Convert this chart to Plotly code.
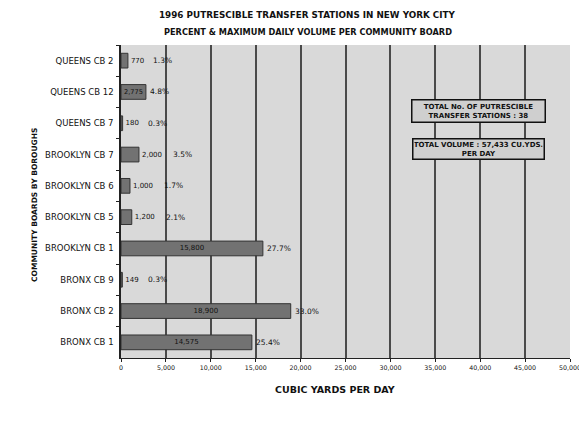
import plotly.graph_objects as go

boards = ["QUEENS CB 2", "QUEENS CB 12", "QUEENS CB 7", "BROOKLYN CB 7", "BROOKLYN CB 6",
          "BROOKLYN CB 5", "BROOKLYN CB 1", "BRONX CB 9", "BRONX CB 2", "BRONX CB 1"]
volumes = [770, 2775, 180, 2000, 1000, 1200, 15800, 149, 18900, 14575]
percents = ["1.3%", "4.8%", "0.3%", "3.5%", "1.7%", "2.1%", "27.7%", "0.3%", "33.0%", "25.4%"]
x_ticks = [0, 5000, 10000, 15000, 20000, 25000, 30000, 35000, 40000, 45000, 50000]
x_tick_labels = ["0", "5,000", "10,000", "15,000", "20,000", "25,000", "30,000",
                 "35,000", "40,000", "45,000", "50,000"]

FONT = "DejaVu Sans"
INK = "#111"

value_text = [f"{v:,}" for v in volumes]
inside = [v > 2500 for v in volumes]

fig = go.Figure()
fig.add_trace(go.Bar(
    y=boards, x=volumes, orientation="h",
    marker=dict(color="#727272", line=dict(color="#333", width=1)),
    text=value_text,
    textposition=["inside" if i else "outside" for i in inside],
    insidetextanchor="middle",
    textfont=dict(size=7, color=INK, family=FONT),
    cliponaxis=False,
    width=0.47,
    hoverinfo="skip",
))

for b, v, t, p, i in zip(boards, volumes, value_text, percents, inside):
    fig.add_annotation(x=v, y=b, xref="x", yref="y", text=p, showarrow=False,
                       xanchor="left", xshift=2 if i else len(t) * 4.5 + 10,
                       font=dict(size=7.5, color=INK, family=FONT))

# title lines
fig.add_annotation(x=0.416, y=1.096, xref="paper", yref="paper", xanchor="center", yanchor="middle",
                   text="<b>1996 PUTRESCIBLE TRANSFER STATIONS IN NEW YORK CITY</b>",
                   showarrow=False, font=dict(size=8.8, color=INK, family=FONT))
fig.add_annotation(x=0.416, y=1.042, xref="paper", yref="paper", xanchor="center", yanchor="middle",
                   text="<b>PERCENT & MAXIMUM DAILY VOLUME PER COMMUNITY BOARD</b>",
                   showarrow=False, font=dict(size=8.2, color=INK, family=FONT))
# axis titles
fig.add_annotation(x=0.477, y=-0.102, xref="paper", yref="paper", xanchor="center", yanchor="middle",
                   text="<b>CUBIC YARDS PER DAY</b>",
                   showarrow=False, font=dict(size=9.5, color=INK, family=FONT))
fig.add_annotation(x=-0.1915, y=0.489, xref="paper", yref="paper", xanchor="center", yanchor="middle",
                   text="<b>COMMUNITY BOARDS BY BOROUGHS</b>", textangle=-90,
                   showarrow=False, font=dict(size=7.5, color=INK, family=FONT))

# info boxes
fig.add_annotation(x=0.797, y=0.789, xref="paper", yref="paper", xanchor="center", yanchor="middle",
                   text="<b>TOTAL No. OF PUTRESCIBLE<br>TRANSFER STATIONS : 38</b>",
                   showarrow=False, font=dict(size=7, color=INK, family=FONT),
                   bgcolor="#cfcfcf", bordercolor=INK, borderwidth=1.5, borderpad=2, width=128)
fig.add_annotation(x=0.797, y=0.669, xref="paper", yref="paper", xanchor="center", yanchor="middle",
                   text="<b>TOTAL VOLUME : 57,433 CU.YDS.<br>PER DAY</b>",
                   showarrow=False, font=dict(size=7, color=INK, family=FONT),
                   bgcolor="#cfcfcf", bordercolor=INK, borderwidth=1.5, borderpad=1, width=128)

# the page body has an 8px margin, so the figure is smaller and margins compensate
fig.update_layout(
    width=579, height=404,
    margin=dict(l=113, r=17, t=37, b=54),
    paper_bgcolor="white", plot_bgcolor="#d9d9d9",
    showlegend=False,
    font=dict(family=FONT, color=INK),
)
fig.update_xaxes(range=[0, 50000], tickvals=x_ticks, ticktext=x_tick_labels,
                 tickfont=dict(size=6.3, family=FONT, color=INK), showgrid=True,
                 gridcolor="#4a4a4a", gridwidth=1.5, ticklabeloverflow="allow",
                 showline=True, linecolor="#222", linewidth=1, ticks="outside", ticklen=3,
                 tickcolor="#222", zeroline=False, automargin=False)
fig.update_yaxes(autorange="reversed", tickfont=dict(size=8.5, family=FONT, color=INK),
                 showline=True, linecolor="#222", linewidth=1.5, ticks="outside", ticklen=3,
                 tickcolor="#222", tickson="boundaries", ticklabelstandoff=4,
                 showgrid=False, automargin=False)

fig.write_html("out.html")
